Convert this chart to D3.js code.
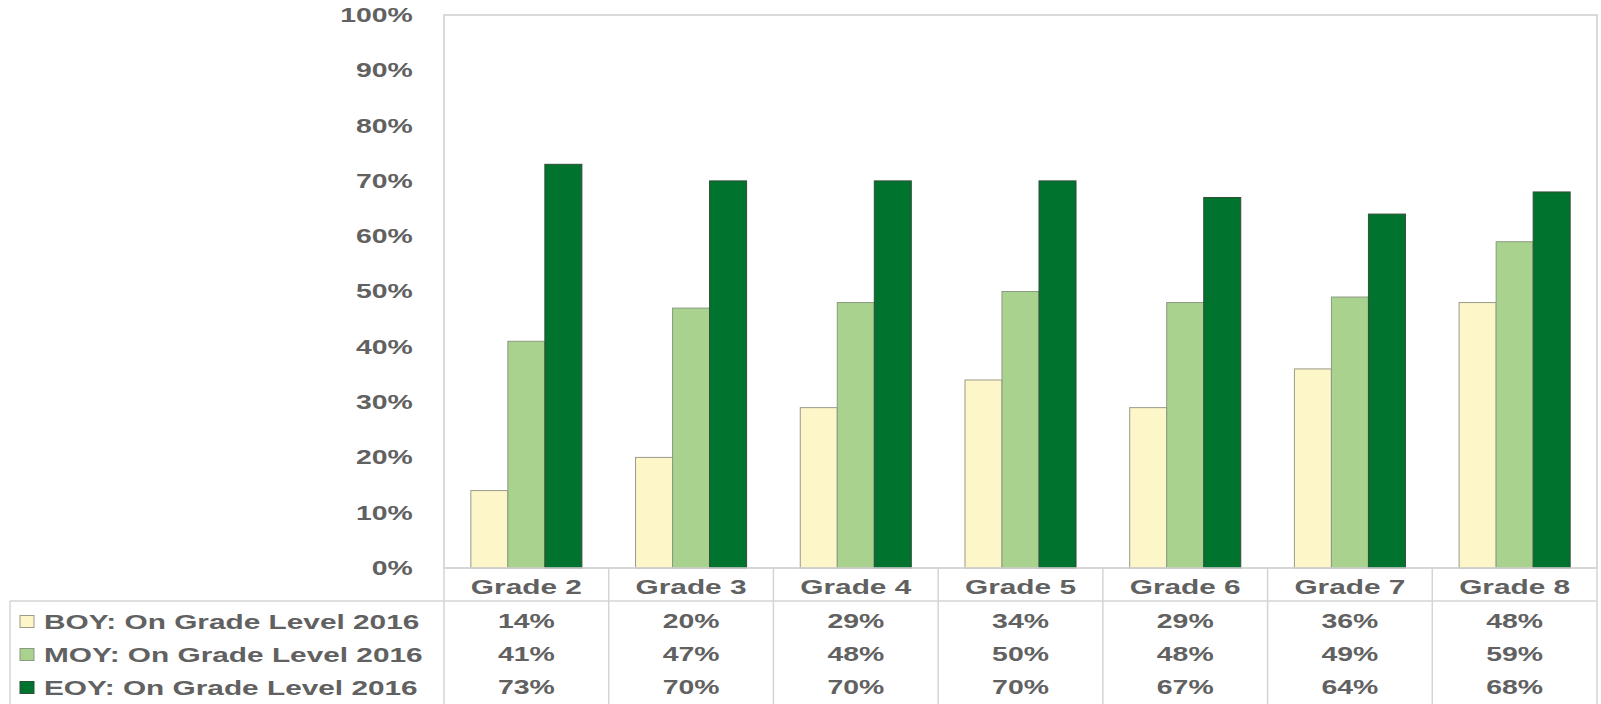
<!DOCTYPE html>
<html>
<head>
<meta charset="utf-8">
<script src="https://cdn.jsdelivr.net/npm/d3@7"></script>
<style>
  body { margin: 0; background: #fff; }
  text { font-family: "Liberation Sans", Arial, sans-serif; font-weight: bold; fill: #616161; }
</style>
</head>
<body>
<script>
// chart data
const grades = ["Grade 2", "Grade 3", "Grade 4", "Grade 5", "Grade 6", "Grade 7", "Grade 8"];
const seriesNames = ["BOY: On Grade Level 2016", "MOY: On Grade Level 2016", "EOY: On Grade Level 2016"];
const boyValues = [14, 20, 29, 34, 29, 36, 48];
const moyValues = [41, 47, 48, 50, 48, 49, 59];
const eoyValues = [73, 70, 70, 70, 67, 64, 68];
const yTicks = [0, 10, 20, 30, 40, 50, 60, 70, 80, 90, 100];
const colors = ["#fdf6c9", "#a8d28e", "#00742f"];
const strokes = ["#9a9a8a", "#8a9a80", "#2f4f36"];

const allValues = [boyValues, moyValues, eoyValues];

const W = 1601, H = 704;
const plotLeft = 444, plotRight = 1597, plotTop = 15, plotBase = 568;
const rowH = 33;
const stretch = 1.42;

const svg = d3.select("body").append("svg")
    .attr("width", W)
    .attr("height", H);

const x = d3.scaleBand().domain(grades).range([plotLeft, plotRight]).padding(0);
const x1 = d3.scaleBand().domain(d3.range(3)).range([0, x.bandwidth()]).paddingInner(0).paddingOuter(0.725);
const y = d3.scaleLinear().domain([0, 100]).range([plotBase, plotTop]);

// plot border
svg.append("rect")
    .attr("x", plotLeft).attr("y", plotTop)
    .attr("width", plotRight - plotLeft).attr("height", plotBase - plotTop)
    .attr("fill", "none")
    .attr("stroke", "#d9d9d9")
    .attr("stroke-width", 2);

// bars
grades.forEach(function(g, i) {
    allValues.forEach(function(vals, s) {
        svg.append("rect")
            .attr("x", x(g) + x1(s))
            .attr("y", y(vals[i]))
            .attr("width", x1.bandwidth())
            .attr("height", plotBase - y(vals[i]))
            .attr("fill", colors[s])
            .attr("stroke", strokes[s])
            .attr("stroke-width", 1);
    });
});

// y axis
const yAxis = svg.append("g")
    .attr("transform", "translate(" + plotLeft + ",0)")
    .call(d3.axisLeft(y).tickValues(yTicks).tickSize(0).tickPadding(22).tickFormat(d => d + "%"));
yAxis.select(".domain").remove();
yAxis.selectAll("text")
    .attr("transform", "scale(" + stretch + ",1)")
    .style("font-size", "20px")
    .style("font-family", "'Liberation Sans', Arial, sans-serif")
    .style("font-weight", "bold")
    .attr("fill", "#616161");

// data table lines
const grid = svg.append("g").attr("stroke", "#d4d4d4").attr("stroke-width", 1.5);
grid.append("line").attr("x1", plotLeft).attr("x2", plotRight).attr("y1", plotBase).attr("y2", plotBase);
grid.append("line").attr("x1", 10).attr("x2", plotRight).attr("y1", plotBase + rowH).attr("y2", plotBase + rowH);
grid.append("line").attr("x1", 10).attr("x2", 10).attr("y1", plotBase + rowH).attr("y2", H);
grades.forEach(function(g) {
    grid.append("line").attr("x1", x(g)).attr("x2", x(g)).attr("y1", plotBase).attr("y2", H);
});
grid.append("line").attr("x1", plotRight).attr("x2", plotRight).attr("y1", plotBase).attr("y2", H);

function stretchedText(px, py, txt, anchor, size) {
    svg.append("text")
        .attr("transform", "translate(" + px + "," + py + ") scale(" + stretch + ",1)")
        .attr("text-anchor", anchor)
        .attr("dominant-baseline", "central")
        .style("font-size", size + "px")
        .text(txt);
}

// header row
grades.forEach(function(g) {
    stretchedText(x(g) + x.bandwidth() / 2, plotBase + rowH / 2 + 2, g, "middle", 21);
});

// series rows
seriesNames.forEach(function(name, s) {
    const cy = plotBase + rowH * (s + 1) + rowH / 2 + 4;
    svg.append("rect")
        .attr("x", 20).attr("y", cy - 6)
        .attr("width", 14).attr("height", 12)
        .attr("fill", colors[s])
        .attr("stroke", strokes[s])
        .attr("stroke-width", 1);
    stretchedText(44, cy, name, "start", 21);
    grades.forEach(function(g, i) {
        stretchedText(x(g) + x.bandwidth() / 2, cy, allValues[s][i] + "%", "middle", 20);
    });
});
</script>
</body>
</html>
